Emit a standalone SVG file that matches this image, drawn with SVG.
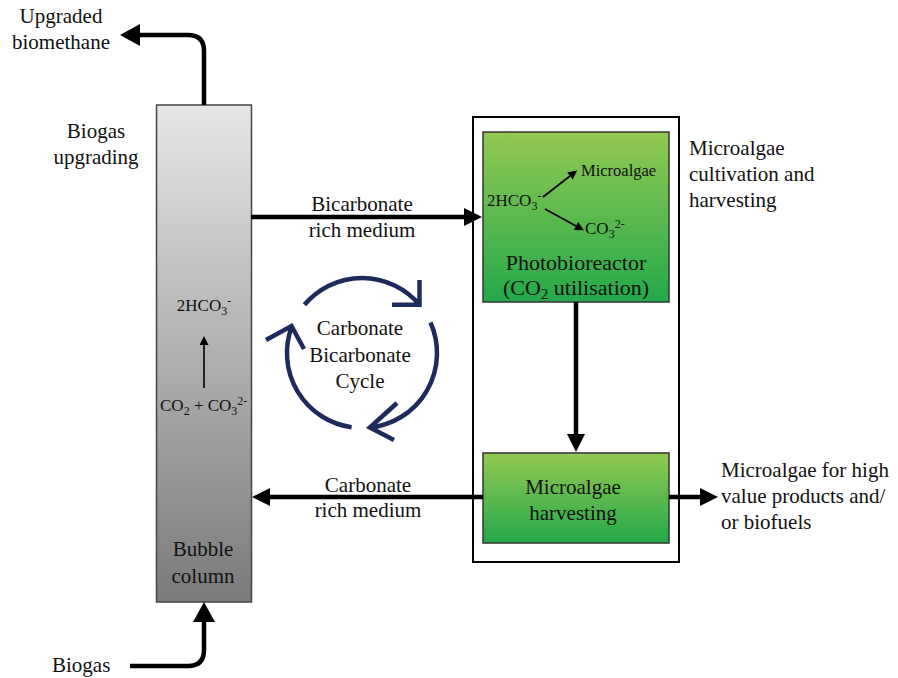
<svg xmlns="http://www.w3.org/2000/svg" width="898" height="678" viewBox="0 0 898 678" font-family="'Liberation Serif', 'Times New Roman', serif">
<style>
text{font-family:'Liberation Serif','Times New Roman',serif;fill:#111;}
.t20{font-size:21px;}
.t16{font-size:17px;}
.t15{font-size:16.5px;}
.c{text-anchor:middle;}
.conn{fill:none;stroke:#000;stroke-width:4.5;}
.thin{fill:none;stroke:#000;stroke-width:1.6;}
.cyc{fill:none;stroke:#1f2a5c;stroke-width:4.5;}
.green{stroke:#333;stroke-width:1.5;}
</style>
<defs>
<linearGradient id="gGray" x1="0" y1="0" x2="0" y2="1">
<stop offset="0" stop-color="#e6e6e6"/>
<stop offset="1" stop-color="#7a7a7a"/>
</linearGradient>
<linearGradient id="gGreen" x1="0" y1="0" x2="0" y2="1">
<stop offset="0" stop-color="#93c952"/>
<stop offset="1" stop-color="#23a94a"/>
</linearGradient>
<marker id="ah" viewBox="0 0 18 18" refX="0" refY="9" markerWidth="18" markerHeight="18" markerUnits="userSpaceOnUse" orient="auto">
<path d="M0,0 L18,9 L0,18 Z" fill="#000"/>
</marker>
<marker id="ah2" viewBox="0 0 20 22" refX="0" refY="11" markerWidth="20" markerHeight="22" markerUnits="userSpaceOnUse" orient="auto">
<path d="M0,0 L20,11 L0,22 Z" fill="#000"/>
</marker>
<marker id="ahs" viewBox="0 0 10 10" refX="0" refY="5" markerWidth="10" markerHeight="9" markerUnits="userSpaceOnUse" orient="auto">
<path d="M0,0 L10,5 L0,10 Z" fill="#000"/>
</marker>
</defs>

<g id="outer-box">
<rect x="473" y="117" width="206" height="445" fill="none" stroke="#000" stroke-width="2"/>
</g>

<g id="bubble-column">
<rect x="156.5" y="105" width="95" height="497" fill="url(#gGray)" stroke="#444" stroke-width="1.5"/>
<text class="t16" x="204" y="311" text-anchor="middle">2HCO<tspan font-size="12" dy="4">3</tspan><tspan font-size="12" dy="-10">-</tspan></text>
<path class="thin" d="M204,388 V345" stroke-width="2" marker-end="url(#ahs)"/>
<text class="t16" x="160" y="411">CO<tspan font-size="12" dy="4">2</tspan><tspan dy="-4"> + CO</tspan><tspan font-size="12" dy="4">3</tspan><tspan font-size="12" dy="-10">2-</tspan></text>
<text class="t20 c" x="203" y="556">Bubble</text>
<text class="t20 c" x="203" y="583">column</text>
</g>

<g id="photobioreactor">
<rect x="483" y="132" width="186" height="170" fill="url(#gGreen)" class="green"/>
<text class="t16" x="487" y="206">2HCO<tspan font-size="12" dy="4">3</tspan><tspan font-size="12" dy="-10">-</tspan></text>
<path class="thin" d="M543,197 L570,176" marker-end="url(#ahs)"/>
<path class="thin" d="M545,209 L576,226" marker-end="url(#ahs)"/>
<text class="t15" x="581" y="176">Microalgae</text>
<text class="t16" x="585" y="234">CO<tspan font-size="12" dy="4">3</tspan><tspan font-size="12" dy="-10">2-</tspan></text>
<text class="c" font-size="22" x="576" y="270">Photobioreactor</text>
<text class="c" font-size="22" x="576" y="295">(CO<tspan font-size="15" dy="4">2</tspan><tspan dy="-4"> utilisation)</tspan></text>
</g>

<g id="harvesting">
<rect x="483" y="453" width="186" height="90" fill="url(#gGreen)" class="green"/>
<text class="t20 c" x="573" y="494">Microalgae</text>
<text class="t20 c" x="573" y="520">harvesting</text>
</g>

<g id="cycle">
<path class="cyc" d="M304.5,304.8 A75,75 0 0 1 419.5,304.8 M419.5,280 V304.8 H392"/>
<path class="cyc" d="M430.5,322.5 A75,75 0 0 1 369.8,427.6 M397,403 L369.8,427.6 L394,440"/>
<path class="cyc" d="M351.6,427.3 A75,75 0 0 1 291.5,327.3 M266,340 L291.5,326 L304,349"/>
<text class="t20 c" x="360" y="335">Carbonate</text>
<text class="t20 c" x="360" y="362">Bicarbonate</text>
<text class="t20 c" x="360" y="388">Cycle</text>
</g>

<g id="labels">
<text class="t20 c" x="61" y="23">Upgraded</text>
<text class="t20 c" x="61" y="49">biomethane</text>
<text class="t20 c" x="96" y="138">Biogas</text>
<text class="t20 c" x="96" y="164">upgrading</text>
<text class="t20" x="52" y="672">Biogas</text>
<text class="t20" x="689" y="155">Microalgae</text>
<text class="t20" x="689" y="181">cultivation and</text>
<text class="t20" x="689" y="207">harvesting</text>
<text class="t20" x="721" y="477">Microalgae for high</text>
<text class="t20" x="721" y="503">value products and/</text>
<text class="t20" x="721" y="529">or biofuels</text>
<text class="t20 c" x="362" y="211">Bicarbonate</text>
<text class="t20 c" x="362" y="237">rich medium</text>
<text class="t20 c" x="368" y="492">Carbonate</text>
<text class="t20 c" x="368" y="517">rich medium</text>
</g>

<g id="connectors">
<path class="conn" d="M251,217 H464" marker-end="url(#ah)"/>
<path class="conn" d="M483,497 H270" marker-end="url(#ah)"/>
<path class="conn" d="M576,302 V434" marker-end="url(#ah)"/>
<path class="conn" d="M669,497 H700" marker-end="url(#ah)"/>
<path class="conn" d="M204,105 V51 Q204,35 188,35 H140" marker-end="url(#ah2)"/>
<path class="conn" d="M130,666 H188 Q204,666 204,650 V622" marker-end="url(#ah2)"/>
</g>
</svg>
